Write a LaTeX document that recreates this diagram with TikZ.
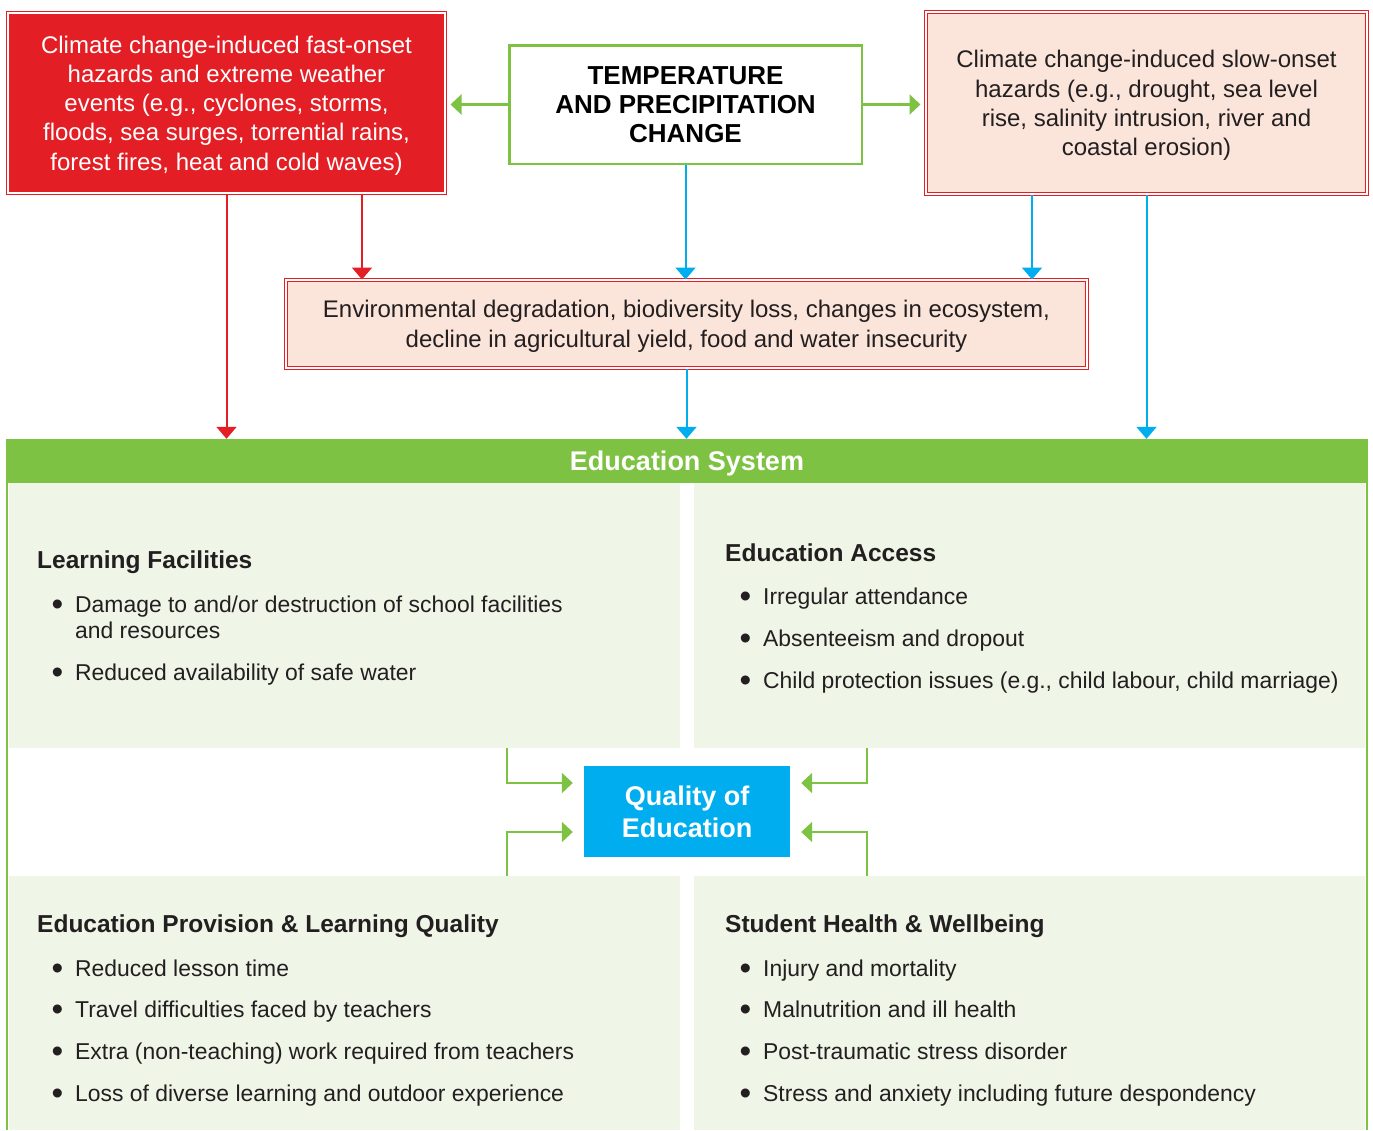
\documentclass[tikz,border=0pt]{standalone}
\usepackage{fontspec}
\setmainfont{Liberation Sans}
\usetikzlibrary{arrows.meta, positioning}
\definecolor{HazardRed}{RGB}{227,30,37}
\definecolor{HazardPeach}{RGB}{251,228,218}
\definecolor{EduGreen}{RGB}{125,194,66}
\definecolor{PanelGreen}{RGB}{239,245,231}
\definecolor{QualityBlue}{RGB}{0,174,239}
\definecolor{TextGray}{RGB}{35,31,32}
\newcommand{\bul}{\makebox[0pt][r]{\raisebox{-3pt}{\scalebox{1.45}{\textbullet}}\hspace{12pt}}}
\tikzstyle{redarrow} = [line width=2pt, HazardRed, -{Triangle[width=20pt,length=12pt]}]
\tikzstyle{bluearrow} = [line width=2pt, QualityBlue, -{Triangle[width=20pt,length=12pt]}]
\tikzstyle{greenarrow} = [line width=2.2pt, EduGreen, -{Triangle[width=20pt,length=11pt]}]
\tikzstyle{hazard} = [rectangle, draw=HazardRed, double=white, double distance=1.6pt, line width=1.4pt, inner sep=0pt, text depth=0pt, align=center, font=\fontsize{24}{29.3}\selectfont]
\tikzstyle{fastbox} = [hazard, fill=HazardRed, text=white]
\tikzstyle{slowbox} = [hazard, fill=HazardPeach, text=TextGray]
\tikzstyle{driver} = [rectangle, draw=EduGreen, line width=2.5pt, fill=white, inner sep=0pt, align=center, font=\fontsize{26}{29.3}\selectfont\bfseries]
\tikzstyle{banner} = [rectangle, fill=EduGreen, text=white, inner sep=0pt, text depth=0pt, font=\fontsize{27}{32}\selectfont\bfseries]
\tikzstyle{panel} = [rectangle, fill=PanelGreen, inner sep=0pt]
\tikzstyle{frame} = [line width=2.5pt, EduGreen]
\tikzstyle{quality} = [rectangle, fill=QualityBlue, text=white, inner sep=0pt, align=center, font=\fontsize{27}{32}\selectfont\bfseries]
\tikzstyle{panelhead} = [anchor=base west, inner sep=0pt, text=TextGray, font=\fontsize{24.5}{28}\selectfont\bfseries]
\tikzstyle{item} = [anchor=base west, inner sep=0pt, text=TextGray, font=\fontsize{22.9}{26}\selectfont]
\begin{document}
\begin{tikzpicture}[x=1pt, y=-1pt]
\useasboundingbox (0,0) rectangle (1373,1130);
% hazards and drivers
\node[fastbox, minimum width=436.6pt, minimum height=179.6pt] (fast) at (226.5,103) {Climate change-induced fast-onset\\hazards and extreme weather\\events (e.g., cyclones, storms,\\floods, sea surges, torrential rains,\\forest fires, heat and cold waves)};
\node[driver, minimum width=352.5pt, minimum height=118.5pt] (temp) at (685.5,104.5) {TEMPERATURE\\AND PRECIPITATION\\CHANGE};
\node[slowbox, minimum width=440.6pt, minimum height=181.6pt] (slow) at (1146.5,103) {Climate change-induced slow-onset\\hazards (e.g., drought, sea level\\rise, salinity intrusion, river and\\coastal erosion)};
\node[slowbox, minimum width=800.6pt, minimum height=87.6pt, font=\fontsize{24}{30}\selectfont] (degr) at (686.5,324) {Environmental degradation, biodiversity loss, changes in ecosystem,\\decline in agricultural yield, food and water insecurity};
% education system
\node[banner, minimum width=1362pt, minimum height=44pt] (edusys) at (687,461) {Education System};
\node[panel, minimum width=671pt, minimum height=265pt] (facil) at (344.5,615.5) {};
\node[panel, minimum width=671pt, minimum height=265pt] (access) at (1029.5,615.5) {};
\node[panel, minimum width=671pt, minimum height=254pt] (prov) at (344.5,1003) {};
\node[panel, minimum width=671pt, minimum height=254pt] (health) at (1029.5,1003) {};
\coordinate (frameL) at ([xshift=1.3pt]edusys.south west);
\coordinate (frameR) at ([xshift=-1.3pt]edusys.south east);
\draw[frame] (frameL) -- (frameL |- prov.south);
\draw[frame] (frameR) -- (frameR |- health.south);
\node[quality, minimum width=206pt, minimum height=91pt] (qual) at (687,811.5) {Quality of\\Education};
% connectors
\coordinate (fastB) at ([xshift=135.5pt]fast.south);
\coordinate (slowB) at ([xshift=-114.5pt]slow.south);
\draw[greenarrow, shorten >=5pt] (temp.west) -- (temp.west -| fast.east);
\draw[greenarrow, shorten >=5pt] (temp.east) -- (temp.east -| slow.west);
\draw[redarrow] (fast.south) -- (fast.south |- edusys.north);
\draw[redarrow] (fastB) -- (fastB |- degr.north);
\draw[bluearrow] (temp.south) -- (temp.south |- degr.north);
\draw[bluearrow] (slowB) -- (slowB |- degr.north);
\draw[bluearrow] (slow.south) -- (slow.south |- edusys.north);
\draw[bluearrow] (degr.south) -- (degr.south |- edusys.north);
\draw[greenarrow] ([xshift=162.5pt]facil.south) |- ([xshift=-11pt,yshift=28.5pt]qual.west);
\draw[greenarrow] ([xshift=162.5pt]prov.north) |- ([xshift=-11pt,yshift=-20.5pt]qual.west);
\draw[greenarrow] ([xshift=-162.5pt]access.south) |- ([xshift=11pt,yshift=28.5pt]qual.east);
\draw[greenarrow] ([xshift=-162.5pt]health.north) |- ([xshift=11pt,yshift=-20.5pt]qual.east);
% panel texts
\node[panelhead] (facilH) at (37,568) {Learning Facilities};
\node[item] (facilA) at (75,612) {\bul Damage to and/or destruction of school facilities};
\node[item] (facilA2) at (75,638) {and resources};
\node[item] (facilB) at (75,680) {\bul Reduced availability of safe water};
\node[panelhead] (accessH) at (725,561) {Education Access};
\node[item] (accessA) at (763,604) {\bul Irregular attendance};
\node[item] (accessB) at (763,646) {\bul Absenteeism and dropout};
\node[item] (accessC) at (763,688) {\bul Child protection issues (e.g., child labour, child marriage)};
\node[panelhead] (provH) at (37,932) {Education Provision \& Learning Quality};
\node[item] (provA) at (75,976) {\bul Reduced lesson time};
\node[item] (provB) at (75,1017) {\bul Travel difficulties faced by teachers};
\node[item] (provC) at (75,1059) {\bul Extra (non-teaching) work required from teachers};
\node[item] (provD) at (75,1101) {\bul Loss of diverse learning and outdoor experience};
\node[panelhead] (healthH) at (725,932) {Student Health \& Wellbeing};
\node[item] (healthA) at (763,976) {\bul Injury and mortality};
\node[item] (healthB) at (763,1017) {\bul Malnutrition and ill health};
\node[item] (healthC) at (763,1059) {\bul Post-traumatic stress disorder};
\node[item] (healthD) at (763,1101) {\bul Stress and anxiety including future despondency};
\end{tikzpicture}
\end{document}
